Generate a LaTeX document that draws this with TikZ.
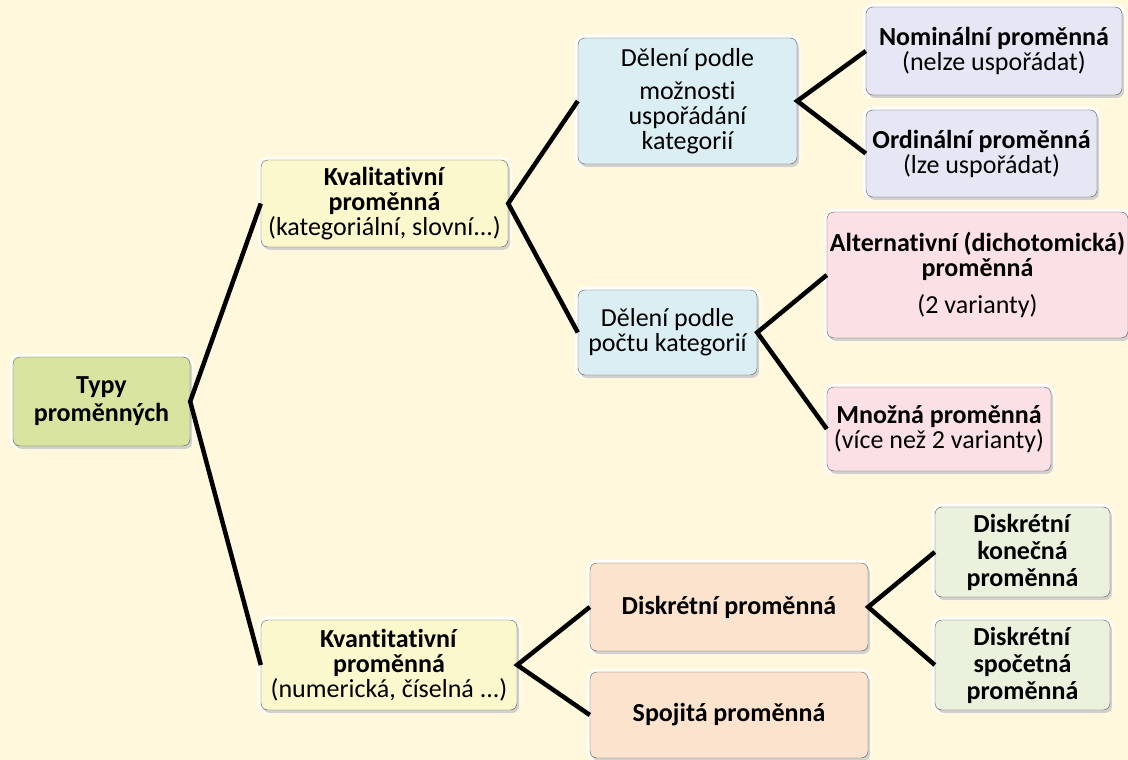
\documentclass[tikz,border=0pt]{standalone}
\usepackage{fontspec}
\setmainfont{Carlito}[Ligatures={NoCommon}]
\usetikzlibrary{positioning,shadows}
\definecolor{cBg}  {RGB}{255,248,220}
\definecolor{cTyp} {RGB}{217,228,160}
\definecolor{cKval}{RGB}{250,248,204}
\definecolor{cDel} {RGB}{219,238,244}
\definecolor{cOrd} {RGB}{230,230,245}
\definecolor{cAlt} {RGB}{251,225,229}
\definecolor{cDisk}{RGB}{252,227,206}
\definecolor{cFin} {RGB}{234,241,221}

\begin{document}
\begin{tikzpicture}[
  x=1pt,y=-1pt,
  box/.style={draw=black!65,rounded corners=7pt,align=center,inner sep=0pt,
              font=\fontsize{26}{25}\selectfont,
              preaction={draw=white,line width=7pt,draw opacity=0.8},
              drop shadow={shadow xshift=2pt,shadow yshift=-3pt,opacity=0.35}},
  boxsize/.style 2 args={minimum width=#1,minimum height=#2},
  link/.style={line width=4.5pt},
]
\fill[cBg] (0,0) rectangle (1128,760);
\useasboundingbox (0,0) rectangle (1128,760);

% root
\node[box,fill=cTyp,boxsize={177pt}{89pt}] (typy) at (101.5,401.5)
  {\textbf{Typy}\\[3pt]\textbf{proměnných}};

% second level
\node[box,fill=cKval,boxsize={247pt}{87pt}] (kval) at (384.5,203.5)
  {\textbf{Kvalitativní}\\\textbf{proměnná}\\(kategoriální, slovní...)};
\node[box,fill=cKval,boxsize={256pt}{90pt}] (kvant) at (389,665)
  {\textbf{Kvantitativní}\\\textbf{proměnná}\\(numerická, číselná ...)};

% third level
\node[box,fill=cDel,boxsize={219pt}{126pt}] (del1) at (687.5,101)
  {Dělení podle\\[8pt]možnosti\\uspořádání\\kategorií};
\node[box,fill=cDel,boxsize={179pt}{85pt}] (del2) at (667.5,332.5)
  {Dělení podle\\počtu kategorií};
\node[box,fill=cDisk,boxsize={278pt}{88pt}] (disk) at (729,607)
  {\textbf{Diskrétní proměnná}};
\node[box,fill=cDisk,boxsize={278pt}{86pt}] (spoj) at (729,715)
  {\textbf{Spojitá proměnná}};

% leaves
\node[box,fill=cOrd,boxsize={256pt}{88pt}] (nom) at (994,51)
  {\textbf{Nominální proměnná}\\(nelze uspořádat)};
\node[box,fill=cOrd,boxsize={231pt}{87pt}] (ord) at (981.5,153.5)
  {\textbf{Ordinální proměnná}\\(lze uspořádat)};
\node[box,fill=cAlt,boxsize={301pt}{126pt}] (alt) at (977.5,275)
  {\textbf{Alternativní (dichotomická)}\\\textbf{proměnná}\\[12pt](2 varianty)};
\node[box,fill=cAlt,boxsize={224pt}{84pt}] (mno) at (939,429)
  {\textbf{Množná proměnná}\\(více než 2 varianty)};
\node[box,fill=cFin,boxsize={175pt}{90pt}] (kon) at (1022.5,552)
  {\textbf{Diskrétní}\\[2pt]\textbf{konečná}\\[2pt]\textbf{proměnná}};
\node[box,fill=cFin,boxsize={175pt}{90pt}] (spoc) at (1022.5,665)
  {\textbf{Diskrétní}\\[2pt]\textbf{spočetná}\\[2pt]\textbf{proměnná}};

% connectors
\draw[link] (kval.west) -- (typy.east) -- (kvant.west);
\draw[link] (del1.west) -- (kval.east) -- (del2.west);
\draw[link] (nom.west) -- (del1.east) -- (ord.west);
\draw[link] (alt.west) -- (del2.east) -- (mno.west);
\draw[link] (disk.west) -- (kvant.east) -- (spoj.west);
\draw[link] (kon.west) -- (disk.east) -- (spoc.west);
\end{tikzpicture}
\end{document}
